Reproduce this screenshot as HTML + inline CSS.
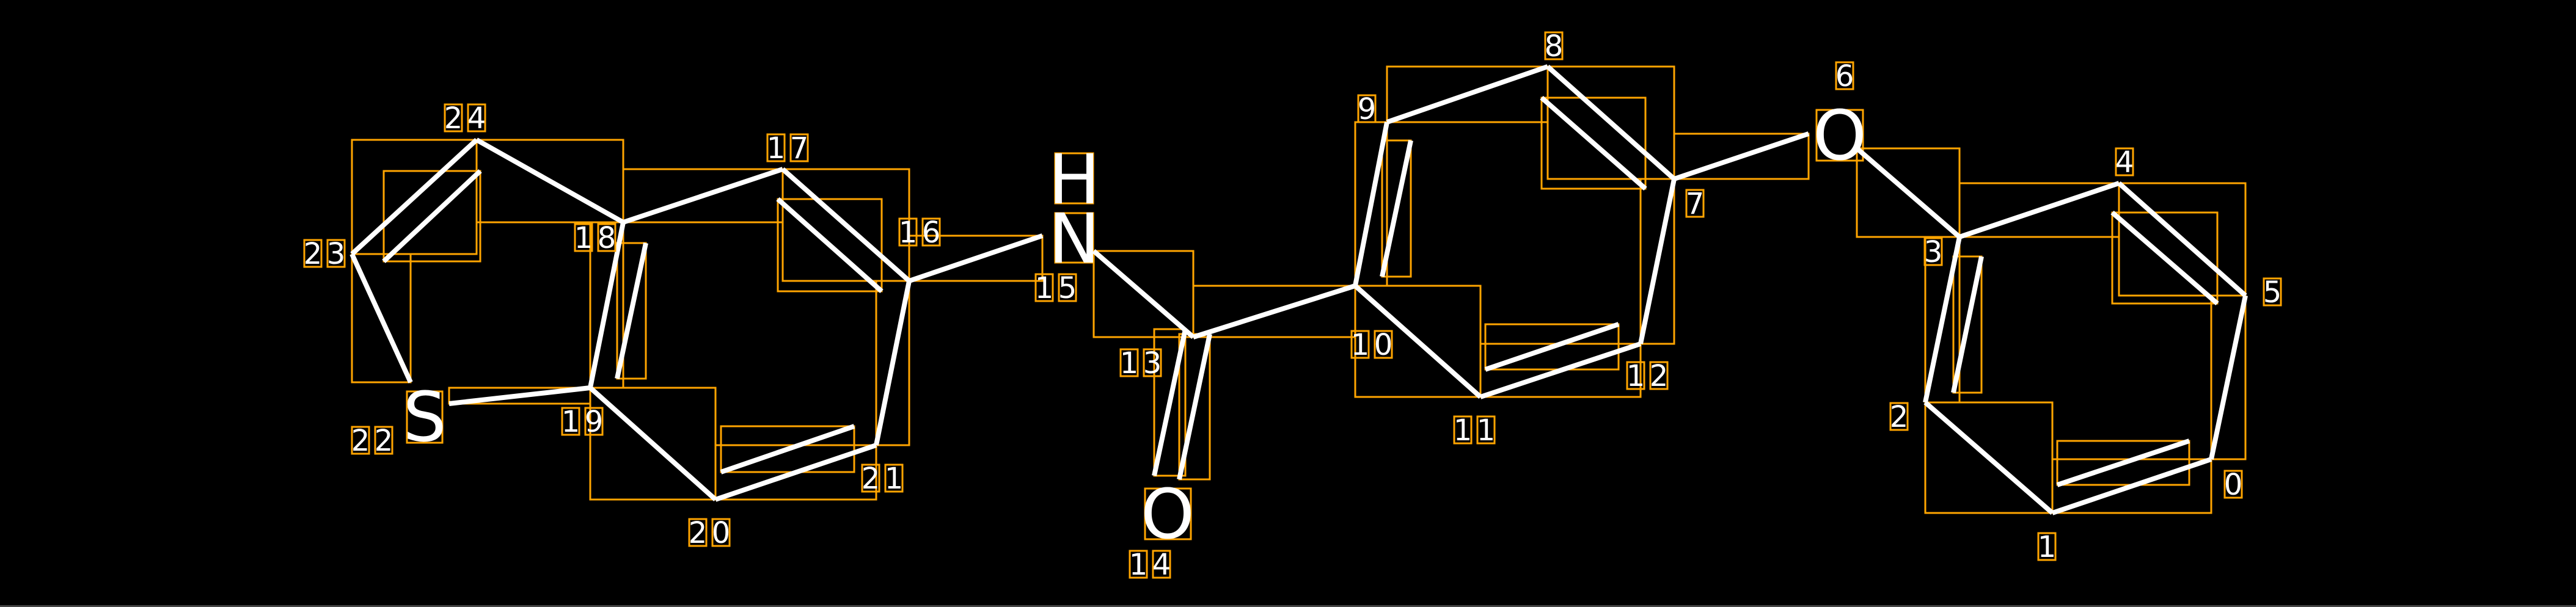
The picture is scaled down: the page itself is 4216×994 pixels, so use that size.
<!DOCTYPE html>
<html><head><meta charset="utf-8"><style>
html,body{margin:0;padding:0;background:#000;}
svg{display:block}
.b{stroke:#fff;stroke-width:8;stroke-linecap:butt}
.r{fill:none;stroke:#FFA500;stroke-width:3}
.t{fill:#fff;font-family:"DejaVu Sans","Liberation Sans",sans-serif;font-size:48px;text-anchor:middle}
.a{fill:#fff;font-family:"DejaVu Sans","Liberation Sans",sans-serif;font-size:112px;text-anchor:middle}
</style></head><body>
<svg width="4216" height="994" viewBox="0 0 4216 994" xmlns="http://www.w3.org/2000/svg">
<rect x="0" y="0" width="4216" height="994" fill="#000"/>
<rect x="0" y="991" width="4216" height="3" fill="#444"/>
<g class="r">
<rect x="576" y="229" width="204" height="187"/>
<rect x="780" y="229" width="240" height="135"/>
<rect x="1020" y="277" width="261" height="87"/>
<rect x="1281" y="277" width="207" height="183"/>
<rect x="1434" y="460" width="54" height="269"/>
<rect x="1171" y="729" width="263" height="89"/>
<rect x="966" y="635" width="205" height="183"/>
<rect x="966" y="364" width="54" height="271"/>
<rect x="735" y="635" width="231" height="26"/>
<rect x="576" y="416" width="96" height="210"/>
<rect x="1488" y="386" width="218" height="74"/>
<rect x="1790" y="411" width="163" height="141"/>
<rect x="1953" y="468" width="265" height="84"/>
<rect x="1889" y="539" width="51" height="240"/>
<rect x="1930" y="547" width="50" height="238"/>
<rect x="2218" y="200" width="52" height="268"/>
<rect x="2270" y="109" width="263" height="91"/>
<rect x="2533" y="109" width="207" height="184"/>
<rect x="2685" y="293" width="55" height="270"/>
<rect x="2423" y="563" width="262" height="87"/>
<rect x="2218" y="468" width="205" height="182"/>
<rect x="2740" y="219" width="220" height="74"/>
<rect x="3039" y="243" width="168" height="145"/>
<rect x="3207" y="300" width="261" height="88"/>
<rect x="3468" y="300" width="207" height="184"/>
<rect x="3619" y="484" width="56" height="268"/>
<rect x="3359" y="752" width="260" height="88"/>
<rect x="3151" y="659" width="208" height="181"/>
<rect x="3151" y="388" width="56" height="271"/>
<rect x="628" y="280" width="158" height="148"/>
<rect x="1010" y="398" width="47" height="222"/>
<rect x="1273" y="326" width="170" height="151"/>
<rect x="1180" y="698" width="218" height="75"/>
<rect x="2262" y="230" width="47" height="223"/>
<rect x="2523" y="160" width="170" height="149"/>
<rect x="2431" y="531" width="218" height="74"/>
<rect x="3197" y="420" width="46" height="223"/>
<rect x="3457" y="348" width="172" height="149"/>
<rect x="3367" y="722" width="216" height="72"/>
<rect x="666" y="641" width="58" height="84"/>
<rect x="1727" y="349" width="62" height="81"/>
<rect x="1727" y="251" width="62" height="82"/>
<rect x="1874" y="800" width="75" height="83"/>
<rect x="2973" y="180" width="76" height="83"/>
</g>
<g class="b">
<line x1="576" y1="416" x2="780" y2="229"/>
<line x1="780" y1="229" x2="1020" y2="364"/>
<line x1="1020" y1="364" x2="1281" y2="277"/>
<line x1="1281" y1="277" x2="1488" y2="460"/>
<line x1="1488" y1="460" x2="1434" y2="729"/>
<line x1="1434" y1="729" x2="1171" y2="818"/>
<line x1="1171" y1="818" x2="966" y2="635"/>
<line x1="966" y1="635" x2="1020" y2="364"/>
<line x1="966" y1="635" x2="735" y2="661"/>
<line x1="576" y1="416" x2="672" y2="626"/>
<line x1="1488" y1="460" x2="1706" y2="386"/>
<line x1="1790" y1="411" x2="1953" y2="552"/>
<line x1="1953" y1="552" x2="2218" y2="468"/>
<line x1="1940" y1="539" x2="1889" y2="779"/>
<line x1="1980" y1="547" x2="1930" y2="785"/>
<line x1="2218" y1="468" x2="2270" y2="200"/>
<line x1="2270" y1="200" x2="2533" y2="109"/>
<line x1="2533" y1="109" x2="2740" y2="293"/>
<line x1="2740" y1="293" x2="2685" y2="563"/>
<line x1="2685" y1="563" x2="2423" y2="650"/>
<line x1="2423" y1="650" x2="2218" y2="468"/>
<line x1="2740" y1="293" x2="2960" y2="219"/>
<line x1="3039" y1="243" x2="3207" y2="388"/>
<line x1="3207" y1="388" x2="3468" y2="300"/>
<line x1="3468" y1="300" x2="3675" y2="484"/>
<line x1="3675" y1="484" x2="3619" y2="752"/>
<line x1="3619" y1="752" x2="3359" y2="840"/>
<line x1="3359" y1="840" x2="3151" y2="659"/>
<line x1="3151" y1="659" x2="3207" y2="388"/>
<line x1="786" y1="280" x2="628" y2="428"/>
<line x1="1057" y1="398" x2="1010" y2="620"/>
<line x1="1273" y1="326" x2="1443" y2="477"/>
<line x1="1180" y1="773" x2="1398" y2="698"/>
<line x1="2309" y1="230" x2="2262" y2="453"/>
<line x1="2523" y1="160" x2="2693" y2="309"/>
<line x1="2431" y1="605" x2="2649" y2="531"/>
<line x1="3243" y1="420" x2="3197" y2="643"/>
<line x1="3457" y1="348" x2="3629" y2="497"/>
<line x1="3367" y1="794" x2="3583" y2="722"/>
</g>
<text class="a" x="695" y="722">S</text>
<text class="a" x="1758" y="430">N</text>
<text class="a" x="1758" y="333">H</text>
<text class="a" x="1911" y="881">O</text>
<text class="a" x="3011" y="261">O</text>
<g class="r">
<rect x="728" y="171" width="28" height="44"/><rect x="766" y="171" width="28" height="44"/>
<rect x="1256" y="220" width="28" height="44"/><rect x="1294" y="220" width="28" height="44"/>
<rect x="941" y="367" width="28" height="44"/><rect x="979" y="367" width="28" height="44"/>
<rect x="498" y="393" width="28" height="44"/><rect x="536" y="393" width="28" height="44"/>
<rect x="1472" y="358" width="28" height="44"/><rect x="1510" y="358" width="28" height="44"/>
<rect x="1695" y="449" width="28" height="44"/><rect x="1733" y="449" width="28" height="44"/>
<rect x="920" y="668" width="28" height="44"/><rect x="958" y="668" width="28" height="44"/>
<rect x="576" y="699" width="28" height="44"/><rect x="614" y="699" width="28" height="44"/>
<rect x="1128" y="850" width="28" height="44"/><rect x="1166" y="850" width="28" height="44"/>
<rect x="1411" y="761" width="28" height="44"/><rect x="1449" y="761" width="28" height="44"/>
<rect x="2212" y="542" width="28" height="44"/><rect x="2250" y="542" width="28" height="44"/>
<rect x="1834" y="572" width="28" height="44"/><rect x="1872" y="572" width="28" height="44"/>
<rect x="1849" y="902" width="28" height="44"/><rect x="1887" y="902" width="28" height="44"/>
<rect x="2380" y="682" width="28" height="44"/><rect x="2418" y="682" width="28" height="44"/>
<rect x="2663" y="593" width="28" height="44"/><rect x="2701" y="593" width="28" height="44"/>
<rect x="2223" y="156" width="28" height="44"/>
<rect x="2529" y="53" width="28" height="44"/>
<rect x="2760" y="311" width="28" height="44"/>
<rect x="3005" y="102" width="28" height="44"/>
<rect x="3463" y="243" width="28" height="44"/>
<rect x="3150" y="390" width="28" height="44"/>
<rect x="3705" y="456" width="28" height="44"/>
<rect x="3094" y="660" width="28" height="44"/>
<rect x="3641" y="771" width="28" height="44"/>
<rect x="3336" y="873" width="28" height="44"/>
</g>
<g class="t">
<text x="742" y="210">2</text><text x="780" y="210">4</text>
<text x="1270" y="259">1</text><text x="1308" y="259">7</text>
<text x="955" y="406">1</text><text x="993" y="406">8</text>
<text x="512" y="432">2</text><text x="550" y="432">3</text>
<text x="1486" y="397">1</text><text x="1524" y="397">6</text>
<text x="1709" y="488">1</text><text x="1747" y="488">5</text>
<text x="934" y="707">1</text><text x="972" y="707">9</text>
<text x="590" y="738">2</text><text x="628" y="738">2</text>
<text x="1142" y="889">2</text><text x="1180" y="889">0</text>
<text x="1425" y="800">2</text><text x="1463" y="800">1</text>
<text x="2226" y="581">1</text><text x="2264" y="581">0</text>
<text x="1848" y="611">1</text><text x="1886" y="611">3</text>
<text x="1863" y="941">1</text><text x="1901" y="941">4</text>
<text x="2394" y="721">1</text><text x="2432" y="721">1</text>
<text x="2677" y="632">1</text><text x="2715" y="632">2</text>
<text x="2237" y="195">9</text>
<text x="2543" y="92">8</text>
<text x="2774" y="350">7</text>
<text x="3019" y="141">6</text>
<text x="3477" y="282">4</text>
<text x="3164" y="429">3</text>
<text x="3719" y="495">5</text>
<text x="3108" y="699">2</text>
<text x="3655" y="810">0</text>
<text x="3350" y="912">1</text>
</g>
</svg>
</body></html>
